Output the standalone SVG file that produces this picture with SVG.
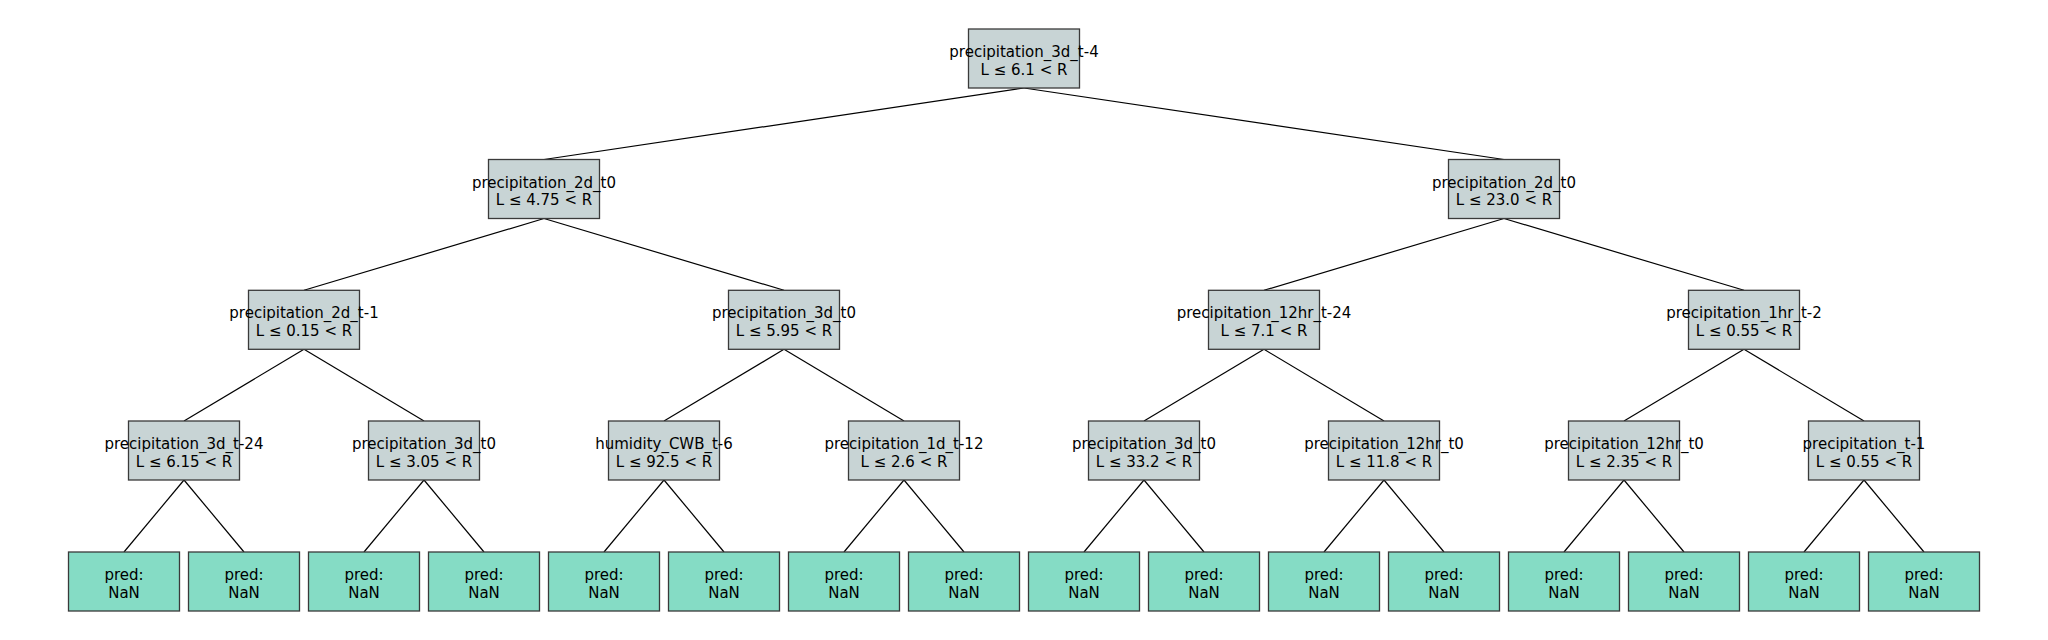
<svg xmlns="http://www.w3.org/2000/svg" width="2048" height="640" viewBox="0 0 2048 640">
<style>
.n rect{fill:#c8d4d5;stroke:#3a3a3a;stroke-width:1.3}
.l rect{fill:#85dcc5;stroke:#3a3a3a;stroke-width:1.3}
text{font-family:"DejaVu Sans",sans-serif;font-size:15px;fill:#000;text-anchor:middle}
#edges line{stroke:#000;stroke-width:1.2}
</style>
<rect width="2048" height="640" fill="#fff"/>
<g id="edges">
<line x1="1024" y1="88" x2="544" y2="159.5"/>
<line x1="1024" y1="88" x2="1504" y2="159.5"/>
<line x1="544" y1="218.5" x2="304" y2="290.3"/>
<line x1="544" y1="218.5" x2="784" y2="290.3"/>
<line x1="1504" y1="218.5" x2="1264" y2="290.3"/>
<line x1="1504" y1="218.5" x2="1744" y2="290.3"/>
<line x1="304" y1="349.3" x2="184" y2="421"/>
<line x1="304" y1="349.3" x2="424" y2="421"/>
<line x1="784" y1="349.3" x2="664" y2="421"/>
<line x1="784" y1="349.3" x2="904" y2="421"/>
<line x1="1264" y1="349.3" x2="1144" y2="421"/>
<line x1="1264" y1="349.3" x2="1384" y2="421"/>
<line x1="1744" y1="349.3" x2="1624" y2="421"/>
<line x1="1744" y1="349.3" x2="1864" y2="421"/>
<line x1="184" y1="480" x2="124" y2="552"/>
<line x1="184" y1="480" x2="244" y2="552"/>
<line x1="424" y1="480" x2="364" y2="552"/>
<line x1="424" y1="480" x2="484" y2="552"/>
<line x1="664" y1="480" x2="604" y2="552"/>
<line x1="664" y1="480" x2="724" y2="552"/>
<line x1="904" y1="480" x2="844" y2="552"/>
<line x1="904" y1="480" x2="964" y2="552"/>
<line x1="1144" y1="480" x2="1084" y2="552"/>
<line x1="1144" y1="480" x2="1204" y2="552"/>
<line x1="1384" y1="480" x2="1324" y2="552"/>
<line x1="1384" y1="480" x2="1444" y2="552"/>
<line x1="1624" y1="480" x2="1564" y2="552"/>
<line x1="1624" y1="480" x2="1684" y2="552"/>
<line x1="1864" y1="480" x2="1804" y2="552"/>
<line x1="1864" y1="480" x2="1924" y2="552"/>
</g>
<g id="n0" class="n"><rect x="968.5" y="29" width="111" height="59"/><text x="1024" y="57">precipitation_3d_t-4</text><text x="1024" y="74.5">L ≤ 6.1 &lt; R</text></g>
<g id="n1" class="n"><rect x="488.5" y="159.5" width="111" height="59"/><text x="544" y="187.5">precipitation_2d_t0</text><text x="544" y="205">L ≤ 4.75 &lt; R</text></g>
<g id="n2" class="n"><rect x="1448.5" y="159.5" width="111" height="59"/><text x="1504" y="187.5">precipitation_2d_t0</text><text x="1504" y="205">L ≤ 23.0 &lt; R</text></g>
<g id="n3" class="n"><rect x="248.5" y="290.3" width="111" height="59"/><text x="304" y="318.3">precipitation_2d_t-1</text><text x="304" y="335.8">L ≤ 0.15 &lt; R</text></g>
<g id="n4" class="n"><rect x="728.5" y="290.3" width="111" height="59"/><text x="784" y="318.3">precipitation_3d_t0</text><text x="784" y="335.8">L ≤ 5.95 &lt; R</text></g>
<g id="n5" class="n"><rect x="1208.5" y="290.3" width="111" height="59"/><text x="1264" y="318.3">precipitation_12hr_t-24</text><text x="1264" y="335.8">L ≤ 7.1 &lt; R</text></g>
<g id="n6" class="n"><rect x="1688.5" y="290.3" width="111" height="59"/><text x="1744" y="318.3">precipitation_1hr_t-2</text><text x="1744" y="335.8">L ≤ 0.55 &lt; R</text></g>
<g id="n7" class="n"><rect x="128.5" y="421" width="111" height="59"/><text x="184" y="449">precipitation_3d_t-24</text><text x="184" y="466.5">L ≤ 6.15 &lt; R</text></g>
<g id="n8" class="n"><rect x="368.5" y="421" width="111" height="59"/><text x="424" y="449">precipitation_3d_t0</text><text x="424" y="466.5">L ≤ 3.05 &lt; R</text></g>
<g id="n9" class="n"><rect x="608.5" y="421" width="111" height="59"/><text x="664" y="449">humidity_CWB_t-6</text><text x="664" y="466.5">L ≤ 92.5 &lt; R</text></g>
<g id="n10" class="n"><rect x="848.5" y="421" width="111" height="59"/><text x="904" y="449">precipitation_1d_t-12</text><text x="904" y="466.5">L ≤ 2.6 &lt; R</text></g>
<g id="n11" class="n"><rect x="1088.5" y="421" width="111" height="59"/><text x="1144" y="449">precipitation_3d_t0</text><text x="1144" y="466.5">L ≤ 33.2 &lt; R</text></g>
<g id="n12" class="n"><rect x="1328.5" y="421" width="111" height="59"/><text x="1384" y="449">precipitation_12hr_t0</text><text x="1384" y="466.5">L ≤ 11.8 &lt; R</text></g>
<g id="n13" class="n"><rect x="1568.5" y="421" width="111" height="59"/><text x="1624" y="449">precipitation_12hr_t0</text><text x="1624" y="466.5">L ≤ 2.35 &lt; R</text></g>
<g id="n14" class="n"><rect x="1808.5" y="421" width="111" height="59"/><text x="1864" y="449">precipitation_t-1</text><text x="1864" y="466.5">L ≤ 0.55 &lt; R</text></g>
<g id="leaf0" class="l"><rect x="68.5" y="552" width="111" height="59"/><text x="124" y="580">pred:</text><text x="124" y="597.5">NaN</text></g>
<g id="leaf1" class="l"><rect x="188.5" y="552" width="111" height="59"/><text x="244" y="580">pred:</text><text x="244" y="597.5">NaN</text></g>
<g id="leaf2" class="l"><rect x="308.5" y="552" width="111" height="59"/><text x="364" y="580">pred:</text><text x="364" y="597.5">NaN</text></g>
<g id="leaf3" class="l"><rect x="428.5" y="552" width="111" height="59"/><text x="484" y="580">pred:</text><text x="484" y="597.5">NaN</text></g>
<g id="leaf4" class="l"><rect x="548.5" y="552" width="111" height="59"/><text x="604" y="580">pred:</text><text x="604" y="597.5">NaN</text></g>
<g id="leaf5" class="l"><rect x="668.5" y="552" width="111" height="59"/><text x="724" y="580">pred:</text><text x="724" y="597.5">NaN</text></g>
<g id="leaf6" class="l"><rect x="788.5" y="552" width="111" height="59"/><text x="844" y="580">pred:</text><text x="844" y="597.5">NaN</text></g>
<g id="leaf7" class="l"><rect x="908.5" y="552" width="111" height="59"/><text x="964" y="580">pred:</text><text x="964" y="597.5">NaN</text></g>
<g id="leaf8" class="l"><rect x="1028.5" y="552" width="111" height="59"/><text x="1084" y="580">pred:</text><text x="1084" y="597.5">NaN</text></g>
<g id="leaf9" class="l"><rect x="1148.5" y="552" width="111" height="59"/><text x="1204" y="580">pred:</text><text x="1204" y="597.5">NaN</text></g>
<g id="leaf10" class="l"><rect x="1268.5" y="552" width="111" height="59"/><text x="1324" y="580">pred:</text><text x="1324" y="597.5">NaN</text></g>
<g id="leaf11" class="l"><rect x="1388.5" y="552" width="111" height="59"/><text x="1444" y="580">pred:</text><text x="1444" y="597.5">NaN</text></g>
<g id="leaf12" class="l"><rect x="1508.5" y="552" width="111" height="59"/><text x="1564" y="580">pred:</text><text x="1564" y="597.5">NaN</text></g>
<g id="leaf13" class="l"><rect x="1628.5" y="552" width="111" height="59"/><text x="1684" y="580">pred:</text><text x="1684" y="597.5">NaN</text></g>
<g id="leaf14" class="l"><rect x="1748.5" y="552" width="111" height="59"/><text x="1804" y="580">pred:</text><text x="1804" y="597.5">NaN</text></g>
<g id="leaf15" class="l"><rect x="1868.5" y="552" width="111" height="59"/><text x="1924" y="580">pred:</text><text x="1924" y="597.5">NaN</text></g>
</svg>
